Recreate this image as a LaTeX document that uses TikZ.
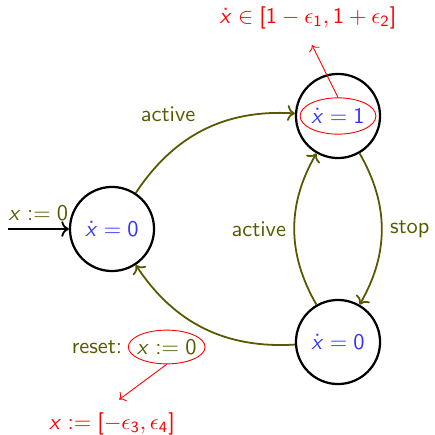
\documentclass[tikz,border=0pt]{standalone}
\usepackage{tikz}
\usetikzlibrary{arrows.meta,positioning,automata,shapes.geometric}
\usepackage{xcolor}
\renewcommand{\familydefault}{\sfdefault}
\SetSymbolFont{operators}{normal}{OT1}{cmss}{m}{n}
\DeclareSymbolFont{sfslant}{OT1}{cmss}{m}{sl}
\DeclareMathSymbol{x}{\mathalpha}{sfslant}{"78}
\definecolor{edgeolive}{rgb}{0.35,0.35,0.0}
\definecolor{flowblue}{rgb}{0.2,0.2,1.0}
\definecolor{annored}{rgb}{1.0,0.0,0.0}

\begin{document}
\begin{tikzpicture}[
    x=0.0157cm, y=-0.0157cm,
    >=To,
    loc/.style={
      state, draw=black, line width=1pt,
      minimum size=1.32cm, inner sep=0pt, text=flowblue,
    },
    trans/.style={
      ->, thick, draw=edgeolive, bend left=30,
    },
    lbl/.style={text=edgeolive},
    redring/.style={
      ellipse, draw=annored, thin, inner sep=0pt,
      minimum width=#1, minimum height=0.57cm,
    },
    note/.style={text=annored},
    pointer/.style={->, thin, draw=annored, shorten >=4pt},
  ]
  \useasboundingbox (0,0) rectangle (435,435);

  % =================== Locations ===================
  \node[loc] (q0) at (112,229) {$\dot x = 0$};
  \node[loc] (q1) at (338,116) {};
  \node[loc] (q2) at (338,342) {$\dot x = 0$};

  % Initial arrow
  \coordinate (init) at (8,229);
  \draw[->, thick] (init) -- (q0)
    node[midway, above, lbl] {$x := 0$};

  % =================== Transitions ===================
  \draw[trans] (q0) to node[auto, lbl] {active} (q1);
  \draw[trans] (q1) to node[auto, lbl] {stop} (q2);
  \draw[trans] (q2) to node[auto, lbl] {active} (q1);
  \draw[trans] (q2) to (q0);

  % Reset label
  \node[lbl] (rst) at (97,347) {reset:};
  \node[redring=1.17cm, lbl, inner xsep=-1.2pt, minimum height=0.53cm,
        right=-1pt of rst] (asg) {$x := 0$};

  % =================== Perturbations ===================
  \node[redring=1.19cm, text=flowblue] (inv) at (q1) {$\dot x = 1$};
  \node[note] (invtxt) at (308,18) {$\dot x \in [1-\epsilon_1, 1+\epsilon_2]$};
  \draw[pointer] (inv.north) -- (invtxt.south);

  \node[note] (rsttxt) at (112,424) {$x := [-\epsilon_3, \epsilon_4]$};
  \draw[pointer] (asg.south) -- (rsttxt.north);

\end{tikzpicture}
\end{document}
